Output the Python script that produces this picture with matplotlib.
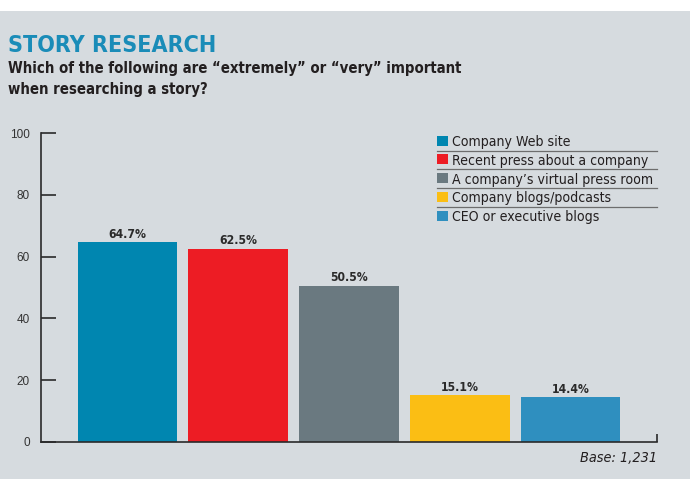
"""Story research bar chart: importance of sources when researching a story."""

import matplotlib

matplotlib.use("Agg")
import matplotlib.pyplot as plt
from matplotlib import font_manager as fm
from matplotlib.patches import Rectangle
from matplotlib.lines import Line2D

# data
categories = [
    "Company Web site",
    "Recent press about a company",
    "A company\u2019s virtual press room",
    "Company blogs/podcasts",
    "CEO or executive blogs",
]
values = [64.7, 62.5, 50.5, 15.1, 14.4]
colors = ["#0086B0", "#ED1C24", "#6A7980", "#FBBE14", "#2F8FBF"]
yticks = [0, 20, 40, 60, 80, 100]

W, H = 690, 479
BG = "#D6DBDF"
INK = "#231F20"

# pick a condensed face if one is around
_fonts = fm.fontManager.ttflist
_names = {f.name for f in _fonts}
if "Liberation Sans Narrow" in _names:
    NARROW = dict(family="Liberation Sans Narrow")
elif any(f.name == "DejaVu Sans" and "ondensed" in f.fname for f in _fonts):
    NARROW = dict(family="DejaVu Sans", stretch="condensed")
else:
    NARROW = dict(family="Roboto")


def fx(x):
    return x / W


def fy(y):
    return 1 - y / H


fig = plt.figure(figsize=(W / 100, H / 100), dpi=100, facecolor=BG)
renderer = fig.canvas.get_renderer()


def fit(t, width_px):
    """Scale a text's font size so it spans about width_px."""
    w = t.get_window_extent(renderer).width
    t.set_fontsize(t.get_fontsize() * width_px / w)
    return t.get_fontsize()


# white strip at the top
fig.patches.append(Rectangle((0, fy(11)), 1, 11 / H, transform=fig.transFigure,
                             facecolor="white", edgecolor="none", zorder=0))

ax = fig.add_axes([fx(41), fy(441.7), fx(657) - fx(41), fy(133.3) - fy(441.7)])
ax.set_facecolor(BG)

xs = list(range(len(values)))
ax.bar(xs, values, width=0.9, color=colors, zorder=2)
lab_size = None
for x, v in zip(xs, values):
    t = ax.text(x, v + 1.5, f"{v:.1f}%", ha="center", va="baseline",
                fontsize=9, fontweight="bold", color="#2a2a2a", **NARROW)
    if lab_size is None:
        lab_size = fit(t, 38)
    t.set_fontsize(lab_size)

ax.set_ylim(0, 100)
ax.set_xlim(-0.78, 4.78)
ax.set_yticks(yticks)
ax.set_yticklabels([str(t) for t in yticks], family="Liberation Sans",
                   fontsize=8.5, color="#333333")
ax.tick_params(axis="y", direction="in", length=11, width=1.2, pad=8,
               color="#2a2a2a")
ax.set_xticks([4.78])
ax.set_xticklabels([""])
ax.tick_params(axis="x", direction="in", length=6, width=1.2, color="#2a2a2a")
for s in ("top", "right"):
    ax.spines[s].set_visible(False)
for s in ("left", "bottom"):
    ax.spines[s].set_color("#2a2a2a")
    ax.spines[s].set_linewidth(1.2)

# titles
t = fig.text(fx(8), fy(51.7), "STORY RESEARCH", fontweight="bold",
             fontsize=19, color="#1A8CB8", va="baseline", ha="left", **NARROW)
fit(t, 208)
sub1 = fig.text(fx(8), fy(73.3),
                "Which of the following are \u201cextremely\u201d or \u201cvery\u201d important",
                fontweight="bold", fontsize=11.3, color=INK,
                va="baseline", ha="left", **NARROW)
sub_size = fit(sub1, 458)
fig.text(fx(8), fy(94.3), "when researching a story?", fontweight="bold",
         fontsize=sub_size, color=INK, va="baseline", ha="left", **NARROW)

# legend, drawn by hand with separators
row0, step = 140.7, 18.75
probe = fig.text(0, 0, categories[1], fontsize=11, **NARROW)
leg_size = fit(probe, 195)
probe.remove()
for i, (lab, c) in enumerate(zip(categories, colors)):
    yc = row0 + i * step
    fig.patches.append(Rectangle((fx(437), fy(yc + 5)), 11 / W, 10 / H,
                                 transform=fig.transFigure, facecolor=c,
                                 edgecolor="none"))
    fig.text(fx(452.5), fy(yc), lab, fontsize=leg_size, color=INK,
             va="center_baseline", ha="left", **NARROW)
    if i < len(categories) - 1:
        ys = fy(yc + step / 2 + 0.5)
        fig.lines.append(Line2D([fx(437), fx(657)], [ys, ys],
                                transform=fig.transFigure, color="#6d6d6d",
                                linewidth=0.9))

t = fig.text(fx(657), fy(462), "Base: 1,231", style="italic", fontsize=11.5,
             color=INK, va="baseline", ha="right", **NARROW)
fit(t, 77)

fig.savefig("out.png", dpi=100, facecolor=BG)
